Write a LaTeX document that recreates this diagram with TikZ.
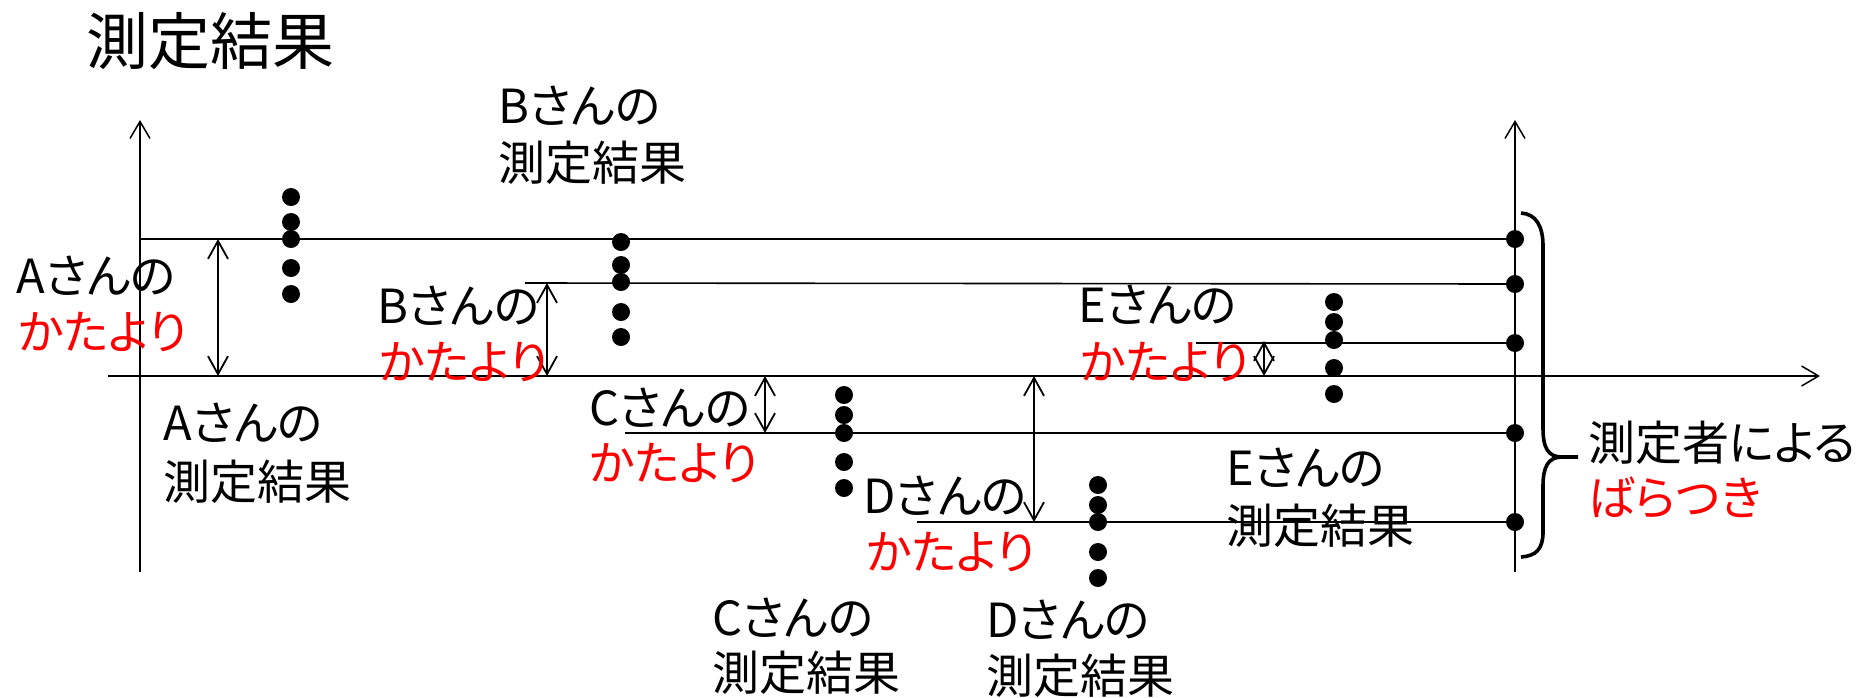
\documentclass[tikz,border=0pt]{standalone}
\usepackage{fontspec}
\setmainfont{Noto Sans CJK JP}[RawFeature=+palt]
\usetikzlibrary{arrows.meta}
\definecolor{hlred}{RGB}{255,0,0}
\tikzset{
  ax/.style={line width=1.5pt, -{Straight Barb[length=17pt,width=20pt]}},
  dbl/.style={line width=1.8pt, {Straight Barb[length=18pt,width=20pt]}-{Straight Barb[length=18pt,width=20pt]}},
  lvl/.style={line width=1.6pt},
  lvlthick/.style={line width=2.3pt},
  dot/.style={circle, fill=black, inner sep=0pt, minimum size=18pt},
  txt/.style={anchor=base west, inner sep=0pt, font=\fontsize{47}{56}\selectfont},
  hl/.style={txt, text=hlred},
  brace/.style={line width=3.6pt}
}
\begin{document}
\begin{tikzpicture}[x=1pt,y=-1pt]
\useasboundingbox (0,0) rectangle (1872,697);
% title
\node[txt, font=\fontsize{62}{70}\selectfont] (title) at (86,64) {測定結果};

% axes
\coordinate (yl0) at (140,572); \coordinate (yl1) at (140,120);
\coordinate (yr0) at (1515,572); \coordinate (yr1) at (1515,120);
\coordinate (x0) at (108,376); \coordinate (x1) at (1820,376);
\draw[ax] (yl0) -- (yl1);
\draw[ax] (yr0) -- (yr1);
\draw[ax] (x0) -- (x1);

% right-axis dots
\node[dot] (rA) at (1515,239) {};
\node[dot] (rB) at (1515,284) {};
\node[dot] (rE) at (1515,343) {};
\node[dot] (rC) at (1515,433) {};
\node[dot] (rD) at (1515,522) {};

% level lines
\coordinate (lA) at (140,239);
\coordinate (lB) at (525,283);
\coordinate (lE) at (1196,343);
\coordinate (lC) at (625,433);
\coordinate (lD) at (917,522);
\draw[lvl] (lA) -- (rA.center);
\draw[lvl] (lB) -- (rB.center);
\draw[lvlthick] (lE) -- (rE.center);
\draw[lvlthick] (lC) -- (rC.center);
\draw[lvl] (lD) -- (rD.center);

% bias arrows
\coordinate (aT) at (218,239); \coordinate (aB) at (218,376);
\coordinate (bT) at (547,283); \coordinate (bB) at (547,376);
\coordinate (cT) at (765,376); \coordinate (cB) at (765,433);
\coordinate (dT) at (1034,376); \coordinate (dB) at (1034,522);
\coordinate (eT) at (1264,341); \coordinate (eB) at (1264,376);
\draw[dbl] (aT) -- (aB);
\draw[dbl] (bT) -- (bB);
\draw[dbl] (cT) -- (cB);
\draw[dbl] (dT) -- (dB);
\draw[dbl, line width=1.8pt] (eT) -- (eB);

% measurement dots
\foreach \n/\y in {1/197,2/222,3/239,4/268,5/294} \node[dot] (A\n) at (291,\y) {};
\foreach \n/\y in {1/242,2/265,3/282,4/312,5/337} \node[dot] (B\n) at (621,\y) {};
\foreach \n/\y in {1/395,2/415,3/433,4/462,5/488} \node[dot] (C\n) at (844,\y) {};
\foreach \n/\y in {1/485,2/505,3/522,4/552,5/578} \node[dot] (D\n) at (1098,\y) {};
\foreach \n/\y in {1/302,2/322,3/340,4/368,5/394} \node[dot] (E\n) at (1334,\y) {};

% brace
\coordinate (brT) at (1521,213);
\coordinate (brM) at (1578,457);
\coordinate (brB) at (1521,557);
\draw[brace] (brT) .. controls (1536,214) and (1543,226) .. (1543,246) -- (1543,428)
  .. controls (1543,448) and (1548,457) .. (1562,457) -- (brM);
\draw[brace] (1562,457) .. controls (1548,457) and (1543,467) .. (1543,486) -- (1543,532)
  .. controls (1543,549) and (1536,556) .. (brB);

% texts: results
\node[txt] (bres1) at (498,123) {Bさんの};
\node[txt] (bres2) at (498,180) {測定結果};
\node[txt] (ares1) at (163,440) {Aさんの};
\node[txt] (ares2) at (163,499) {測定結果};
\node[txt] (eres1) at (1226,485) {Eさんの};
\node[txt] (eres2) at (1226,543) {測定結果};
\node[txt] (cres1) at (712,635) {Cさんの};
\node[txt] (cres2) at (712,690) {測定結果};
\node[txt] (dres1) at (986,637) {Dさんの};
\node[txt] (dres2) at (986,693) {測定結果};

% texts: bias
\node[txt] (abias1) at (16,293) {Aさんの};
\node[hl] (abias2) at (18,349) {かたより};
\node[txt] (bbias1) at (377,323) {Bさんの};
\node[hl] (bbias2) at (379,379) {かたより};
\node[txt] (ebias1) at (1078,322) {Eさんの};
\node[hl] (ebias2) at (1080,379) {かたより};
\node[txt] (cbias1) at (589,425) {Cさんの};
\node[hl] (cbias2) at (589,480) {かたより};
\node[txt] (dbias1) at (863,513) {Dさんの};
\node[hl] (dbias2) at (866,569) {かたより};

% variation
\node[txt] (var1) at (1588,460) {測定者による};
\node[hl] (var2) at (1588,515) {ばらつき};
\end{tikzpicture}
\end{document}
